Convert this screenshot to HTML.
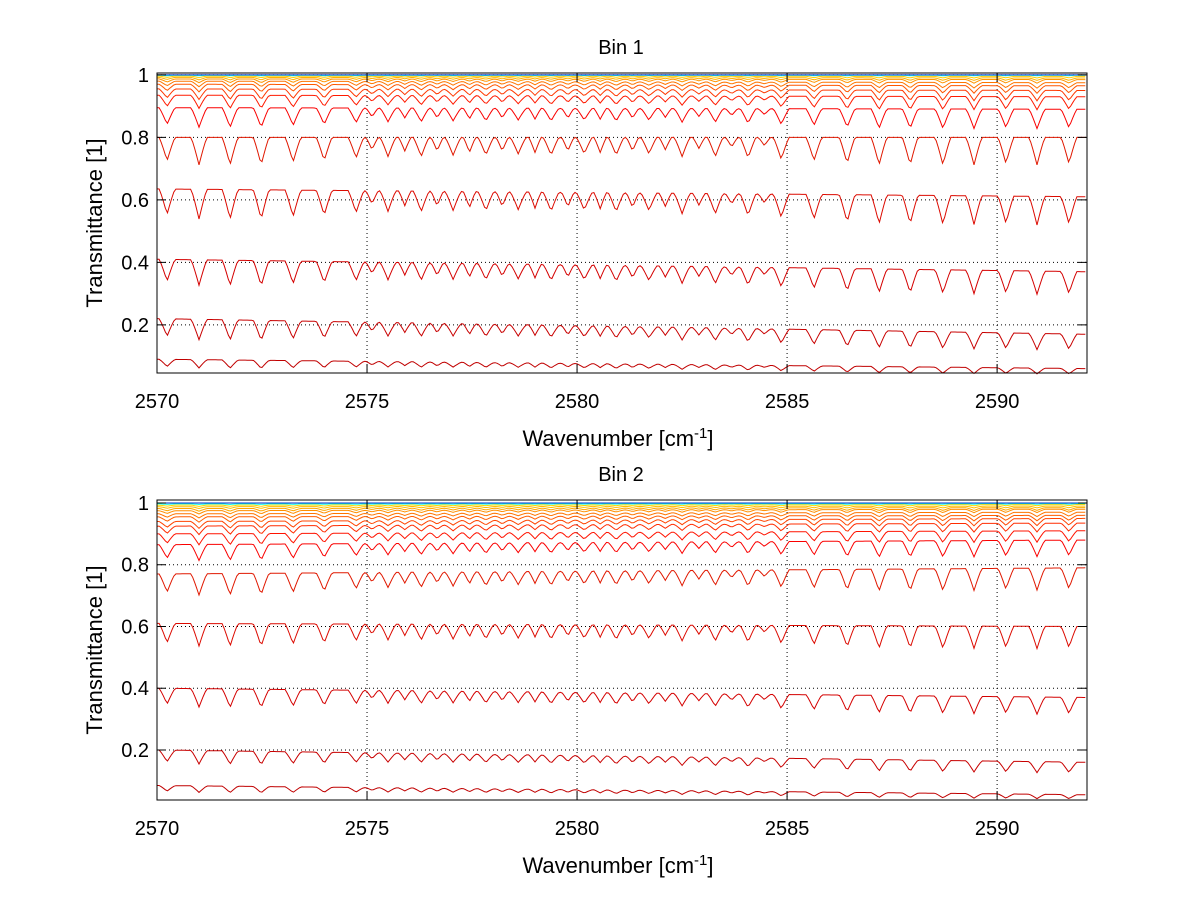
<!DOCTYPE html>
<html><head><meta charset="utf-8">
<style>
body{margin:0;background:#fff;}
svg{display:block;font-family:"Liberation Sans",Arial,sans-serif;}
</style></head>
<body>
<svg id="chart" width="1200" height="901" viewBox="0 0 1200 901"></svg>
<script>
// ---- data ----
const xTicks = [2570, 2575, 2580, 2585, 2590];
const yTicks = [0.2, 0.4, 0.6, 0.8, 1];
const yTickLabels = ["0.2", "0.4", "0.6", "0.8", "1"];
const lineCenters = [2570.24,2571.00,2571.74,2572.48,2573.24,2573.98,2574.74,2575.50,2576.29,2577.05,2577.83,2578.60,2579.38,2580.17,2580.93,2581.71,2582.50,2583.29,2584.07,2584.86,2585.64,2586.43,2587.19,2587.93,2588.71,2589.45,2590.21,2590.95,2591.71];
const lineStrengths = [0.85,1.0,1.0,1.0,0.9,0.85,0.75,0.7,0.7,0.65,0.65,0.6,0.65,0.6,0.65,0.6,0.7,0.7,0.75,0.8,0.85,0.95,1.0,1.0,1.0,1.0,0.95,1.0,0.95];
const secondaryCenters = [2575.12,2575.90,2576.67,2577.44,2578.22,2579.00,2579.78,2580.55,2581.32,2582.10,2582.90,2583.68,2584.46];
const secondaryStrengths = [0.45,0.5,0.5,0.55,0.5,0.55,0.5,0.55,0.5,0.45,0.4,0.35,0.3];
// bin 1 curves: start level, end level, relative dip depth
const bin1Start = [0.09,0.22,0.41,0.635,0.80,0.895,0.935,0.955,0.97,0.98,0.987,0.992,0.996,0.999,1.0];
const bin1End   = [0.06,0.17,0.37,0.61,0.80,0.89,0.93,0.95,0.965,0.975,0.985,0.99,0.995,0.999,1.0];
const bin1Dip   = [0.3,0.3,0.2,0.15,0.11,0.07,0.045,0.035,0.025,0.018,0.012,0.008,0.005,0.002,0];
// bin 2 curves
const bin2Start = [0.085,0.20,0.40,0.61,0.77,0.865,0.90,0.925,0.94,0.955,0.965,0.975,0.982,0.988,0.993,0.997,1.0];
const bin2End   = [0.055,0.16,0.37,0.60,0.79,0.88,0.91,0.935,0.95,0.96,0.97,0.98,0.985,0.99,0.995,0.998,1.0];
const bin2Dip   = [0.25,0.22,0.15,0.12,0.09,0.06,0.04,0.03,0.024,0.018,0.014,0.011,0.009,0.006,0.004,0.002,0];

const NS = "http://www.w3.org/2000/svg";
const svg = document.getElementById("chart");
function mk(tag, attrs, parent){ const e=document.createElementNS(NS,tag); for(const k in attrs) e.setAttribute(k,attrs[k]); (parent||svg).appendChild(e); return e; }

function jet(t){
  const r=Math.min(1,Math.max(0,1.5-Math.abs(4*t-3)));
  const g=Math.min(1,Math.max(0,1.5-Math.abs(4*t-2)));
  const b=Math.min(1,Math.max(0,1.5-Math.abs(4*t-1)));
  return `rgb(${Math.round(r*255)},${Math.round(g*255)},${Math.round(b*255)})`;
}
function prof(d,hw){ const a=Math.abs(d)/hw; return a>=1?0:Math.pow(1-a,1.15); }

function drawPanel(cfg){
  const {left,top,width,height,xmin,xmax,ymin,ymax,title,starts,ends,dips,name} = cfg;
  const g = mk("g",{});
  
  
  const X = v => left + (v-xmin)/(xmax-xmin)*width;
  const Y = v => top + (ymax-v)/(ymax-ymin)*height;
  xTicks.forEach(t=>{
    const l=mk("line",{x1:X(t),x2:X(t),y1:top,y2:top+height,stroke:"#000","stroke-width":1,"stroke-dasharray":"1,3"},g);
    
    
  });
  yTicks.forEach(t=>{
    const l=mk("line",{x1:left,x2:left+width,y1:Y(t),y2:Y(t),stroke:"#000","stroke-width":1,"stroke-dasharray":"1,3"},g);
    
    
  });
  const n = starts.length;
  for(let i=0;i<n;i++){
    let d="";
    for(let w=xmin; w<=xmax+1e-9; w+=0.05){
      let tau=0;
      lineCenters.forEach((c,k)=>{ tau += lineStrengths[k]*prof(w-c,0.19); });
      secondaryCenters.forEach((c,k)=>{ tau += secondaryStrengths[k]*prof(w-c,0.15); });
      tau = Math.min(tau,1.2);
      const f=(w-xmin)/(xmax-xmin);
      const base = starts[i] + (ends[i]-starts[i])*f;
      const v = base*(1 - dips[i]*tau);
      d += (d?"L":"M")+X(w).toFixed(1)+","+Y(v).toFixed(1);
    }
    let col;
    if(i===n-1) col="#0030c8";
    else if(i<5) col=["#c00000","#c80000","#d40000","#dc0a00","#e01800"][i];
    else { const t = 0.88 - (i-5)/Math.max(1,n-7)*0.24; col = (i===n-2)?jet(0.4):jet(t); }
    const p=mk("path",{d:d,fill:"none",stroke:col,"stroke-width":1},g);
    
    
  }
  const bx=mk("rect",{x:left,y:top,width:width,height:height,fill:"none",stroke:"#000","stroke-width":1},g);
  
  
  xTicks.forEach(t=>{
    mk("line",{x1:X(t),x2:X(t),y1:top+height,y2:top+height-9,stroke:"#000"},g);
    mk("line",{x1:X(t),x2:X(t),y1:top,y2:top+9,stroke:"#000"},g);
    const tx=mk("text",{x:X(t),y:top+height+35,"font-size":20,"text-anchor":"middle"},g);
    tx.textContent=t;
    
    
  });
  yTicks.forEach((t,k)=>{
    mk("line",{x1:left,x2:left+9,y1:Y(t),y2:Y(t),stroke:"#000"},g);
    mk("line",{x1:left+width,x2:left+width-9,y1:Y(t),y2:Y(t),stroke:"#000"},g);
    const tx=mk("text",{x:left-8,y:Y(t)+7,"font-size":20,"text-anchor":"end"},g);
    tx.textContent=yTickLabels[k];
    
    
  });
  const ti=mk("text",{x:left+width/2-1,y:top-19,"font-size":20,"text-anchor":"middle"},g);
  ti.textContent=title;
  
  
  const xl=mk("text",{x:left+width/2-4,y:top+height+73,"font-size":22,"text-anchor":"middle"},g);
  xl.innerHTML='Wavenumber [cm<tspan dy="-8" font-size="15">-1</tspan><tspan dy="8">]</tspan>';
  
  
  const yl=mk("text",{x:0,y:0,"font-size":22,"text-anchor":"middle",transform:`translate(102,${top+height/2}) rotate(-90)`},g);
  yl.textContent="Transmittance [1]";
  
  
}

drawPanel({name:"bin-1-panel",left:157,top:73,width:930,height:300,xmin:2570,xmax:2592.14,ymin:0.046,ymax:1.006,title:"Bin 1",starts:bin1Start,ends:bin1End,dips:bin1Dip});
drawPanel({name:"bin-2-panel",left:157,top:500,width:930,height:300,xmin:2570,xmax:2592.14,ymin:0.038,ymax:1.0097,title:"Bin 2",starts:bin2Start,ends:bin2End,dips:bin2Dip});
</script>
</body></html>
